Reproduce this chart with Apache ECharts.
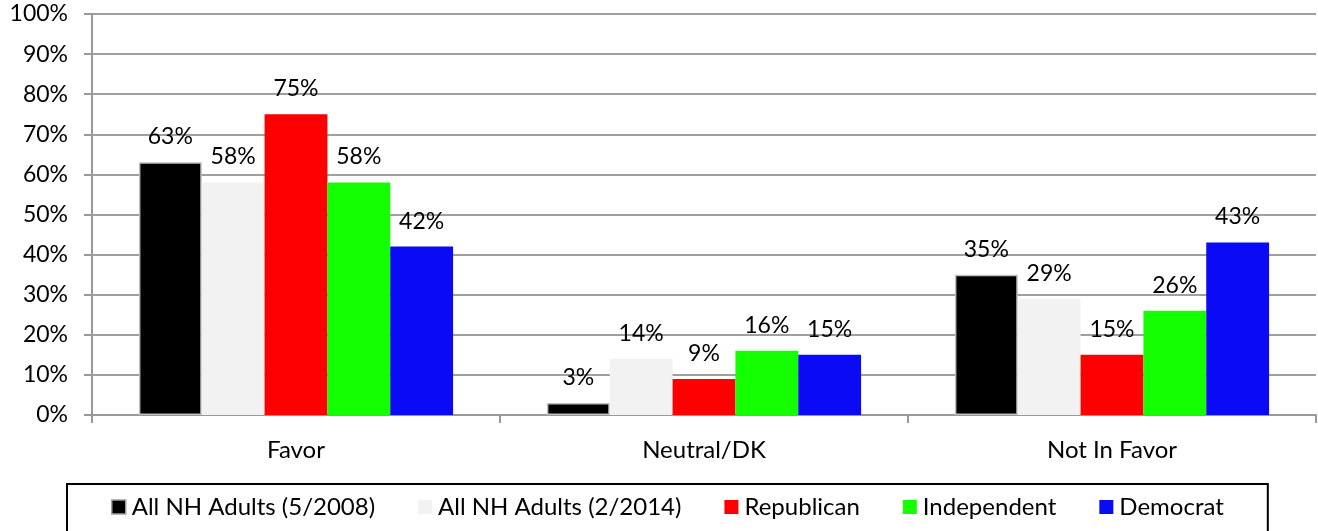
<!DOCTYPE html>
<html><head><meta charset="utf-8">
<script src="https://cdn.jsdelivr.net/npm/echarts@6/dist/echarts.min.js"></script>
<style>html,body{margin:0;padding:0;background:#fff}#c{width:1318px;height:531px}</style>
</head><body><div id="c"></div>
<script>
const categories = ['Favor', 'Neutral/DK', 'Not In Favor'];
const seriesNames = ['All NH Adults (5/2008)', 'All NH Adults (2/2014)', 'Republican', 'Independent', 'Democrat'];
const adults2008 = [63, 3, 35];
const adults2014 = [58, 14, 29];
const republican = [75, 9, 15];
const independent = [58, 16, 26];
const democrat = [42, 15, 43];
const yTicks = [0, 10, 20, 30, 40, 50, 60, 70, 80, 90, 100];

const values = [adults2008, adults2014, republican, independent, democrat];
const colors = ['#000000', '#F2F2F2', '#FF0000', '#14FF00', '#0A0AF5'];
const FONT = 'Lato';

const chart = echarts.init(document.getElementById('c'), null, {renderer: 'canvas'});
chart.setOption({
  animation: false,
  textStyle: {fontFamily: FONT},
  grid: {left: 92, right: 2, top: 14, bottom: 116, containLabel: false},
  legend: {
    left: 67, top: 484,
    data: seriesNames.map((n, i) => i === 0 ? {name: n, itemStyle: {borderColor: '#A0A0A0', borderWidth: 1.5}} : {name: n}),
    icon: 'rect', itemWidth: 14, itemHeight: 14, itemGap: 43,
    padding: [11, 44, 16, 44],
    borderColor: '#000', borderWidth: 2,
    textStyle: {fontFamily: FONT, fontSize: 24, color: '#000', padding: [0, 0, 0, 1]}
  },
  xAxis: {
    type: 'category', data: categories,
    axisLine: {lineStyle: {color: '#999', width: 2}},
    axisTick: {show: true, length: 8, lineStyle: {color: '#999', width: 2}},
    axisLabel: {fontFamily: FONT, fontSize: 24, color: '#000', margin: 23}
  },
  yAxis: {
    type: 'value', min: yTicks[0], max: yTicks[yTicks.length - 1], interval: 10,
    axisLine: {show: true, lineStyle: {color: '#999', width: 2}},
    axisTick: {show: true, length: 8, lineStyle: {color: '#999', width: 2}},
    splitLine: {lineStyle: {color: '#A0A0A0', width: 2}},
    axisLabel: {fontFamily: FONT, fontSize: 23, color: '#000', margin: 24, formatter: '{value}%'}
  },
  series: seriesNames.map((n, i) => ({
    name: n, type: 'bar', data: values[i],
    barGap: '0%', barCategoryGap: '23%',
    itemStyle: {color: colors[i], borderColor: i === 0 ? '#BFBFBF' : colors[i], borderWidth: i === 0 ? 1.5 : 0},
    label: {show: true, position: 'top', distance: 14, formatter: '{c}%', fontFamily: FONT, fontSize: 23, color: '#000'}
  }))
});
</script></body></html>
